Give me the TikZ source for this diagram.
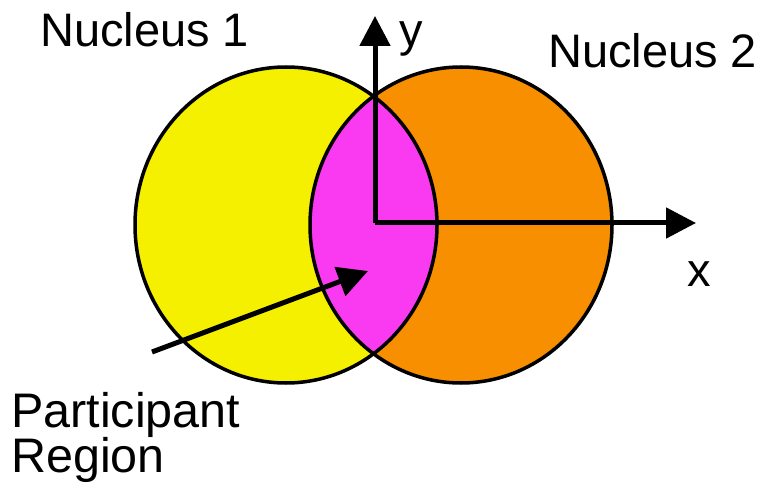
\documentclass[tikz,border=0pt]{standalone}
\usepackage{fontspec}
\setmainfont{Liberation Sans}
\usetikzlibrary{arrows.meta}
\definecolor{nucA}{RGB}{245,239,0}
\definecolor{nucB}{RGB}{247,143,0}
\definecolor{part}{RGB}{250,58,240}
\tikzset{
  lbl/.style={anchor=base west, inner sep=0pt, font=\fontsize{47bp}{47bp}\selectfont},
  biglbl/.style={lbl, font=\fontsize{48.5bp}{48.5bp}\selectfont},
  rim/.style={draw=black, line width=3.5bp},
  axisarrow/.style={line width=5bp, -{Triangle[length=30bp,width=30bp]}},
}
\begin{document}
\begin{tikzpicture}[x=1bp,y=-1bp]
\useasboundingbox (0,0) rectangle (762,492);
% nuclei
\coordinate (c1) at (286,225);
\coordinate (c2) at (461,225);
\fill[nucA] (c1) ellipse [x radius=151, y radius=158];
\fill[nucB] (c2) ellipse [x radius=151, y radius=158];
\begin{scope}
  \clip (c1) ellipse [x radius=151, y radius=158];
  \fill[part] (c2) ellipse [x radius=151, y radius=158];
\end{scope}
\draw[rim] (c1) ellipse [x radius=151, y radius=158];
\draw[rim] (c2) ellipse [x radius=151, y radius=158];
% axes
\coordinate (O) at (375,223);
\coordinate (ytip) at (375,16);
\coordinate (xtip) at (696,223);
\draw[axisarrow] (O) -- (ytip);
\draw[axisarrow] (O) -- (xtip);
% pointer
\coordinate (ptail) at (152,352);
\coordinate (phead) at (368,271);
\draw[axisarrow] (ptail) -- (phead);
% labels
\node[lbl] (n1) at (40,47) {Nucleus 1};
\node[lbl] (n2) at (548,68) {Nucleus 2};
\node[lbl] (ly) at (399,47) {y};
\node[lbl] (lx) at (687,287) {x};
\node[biglbl] (p1) at (11,427) {Participant};
\node[biglbl] (p2) at (11,472) {Region};
\end{tikzpicture}
\end{document}
